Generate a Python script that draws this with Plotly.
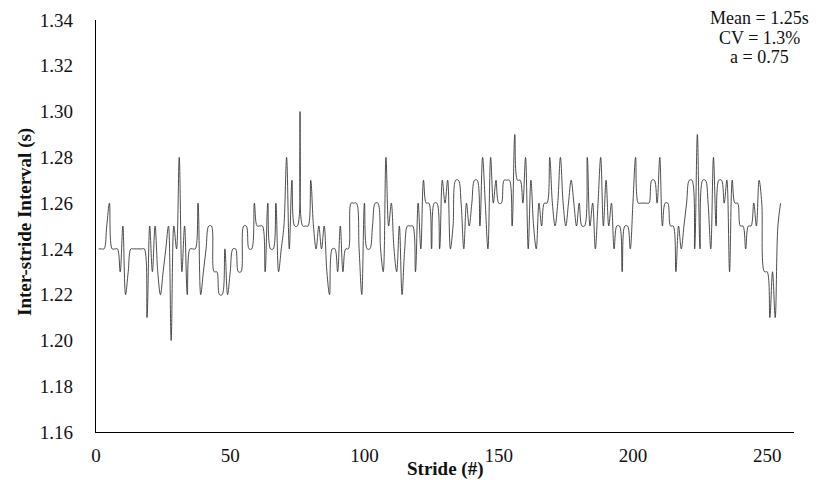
import plotly.graph_objects as go

strides = list(range(1, 256))
interval_s = [
    1.24, 1.24, 1.24, 1.25, 1.26, 1.24, 1.24, 1.24, 1.23, 1.25,
    1.22, 1.23, 1.24, 1.24, 1.24, 1.24, 1.24, 1.24, 1.21, 1.25,
    1.23, 1.25, 1.23, 1.22, 1.23, 1.24, 1.25, 1.20, 1.25, 1.24,
    1.28, 1.23, 1.25, 1.22, 1.24, 1.24, 1.24, 1.26, 1.22, 1.23,
    1.24, 1.25, 1.25, 1.23, 1.23, 1.22, 1.22, 1.24, 1.22, 1.23,
    1.24, 1.24, 1.23, 1.23, 1.25, 1.25, 1.24, 1.24, 1.26, 1.25,
    1.25, 1.25, 1.23, 1.26, 1.24, 1.24, 1.26, 1.23, 1.24, 1.25,
    1.28, 1.24, 1.27, 1.25, 1.25, 1.30, 1.25, 1.25, 1.25, 1.27,
    1.25, 1.24, 1.25, 1.24, 1.25, 1.23, 1.22, 1.24, 1.24, 1.23,
    1.25, 1.23, 1.24, 1.24, 1.26, 1.26, 1.26, 1.24, 1.22, 1.26,
    1.24, 1.24, 1.25, 1.26, 1.26, 1.24, 1.23, 1.28, 1.25, 1.26,
    1.24, 1.23, 1.25, 1.22, 1.24, 1.25, 1.25, 1.25, 1.23, 1.26,
    1.24, 1.27, 1.26, 1.26, 1.24, 1.26, 1.26, 1.24, 1.27, 1.26,
    1.27, 1.24, 1.25, 1.27, 1.27, 1.26, 1.24, 1.26, 1.25, 1.26,
    1.27, 1.27, 1.25, 1.28, 1.26, 1.24, 1.28, 1.26, 1.27, 1.26,
    1.26, 1.27, 1.27, 1.27, 1.25, 1.29, 1.27, 1.27, 1.26, 1.28,
    1.24, 1.27, 1.25, 1.24, 1.26, 1.25, 1.26, 1.26, 1.28, 1.26,
    1.25, 1.26, 1.28, 1.26, 1.25, 1.26, 1.27, 1.26, 1.25, 1.26,
    1.25, 1.25, 1.28, 1.25, 1.26, 1.24, 1.26, 1.28, 1.25, 1.27,
    1.25, 1.26, 1.24, 1.25, 1.25, 1.23, 1.25, 1.25, 1.24, 1.26,
    1.28, 1.26, 1.26, 1.26, 1.26, 1.26, 1.27, 1.27, 1.26, 1.28,
    1.25, 1.26, 1.26, 1.25, 1.25, 1.23, 1.25, 1.24, 1.25, 1.26,
    1.27, 1.27, 1.24, 1.29, 1.24, 1.27, 1.27, 1.26, 1.24, 1.28,
    1.25, 1.27, 1.27, 1.26, 1.27, 1.23, 1.27, 1.26, 1.26, 1.25,
    1.25, 1.24, 1.25, 1.25, 1.26, 1.25, 1.27, 1.26, 1.23, 1.23,
    1.21, 1.23, 1.21, 1.25, 1.26,
]
x_ticks = [0, 50, 100, 150, 200, 250]
y_ticks = [1.16, 1.18, 1.20, 1.22, 1.24, 1.26, 1.28, 1.30, 1.32, 1.34]
stats_lines = ["Mean = 1.25s", "CV = 1.3%", "a = 0.75"]

FONT = "Liberation Serif, Times New Roman, serif"

fig = go.Figure()
fig.add_trace(go.Scatter(
    x=strides, y=interval_s, mode="lines",
    line=dict(color="#3a3a3a", width=0.9, shape="spline", smoothing=1.0),
    showlegend=False, hoverinfo="skip",
))

# page body has an 8px default margin; compensate so the plot area lands at
# x 96..794, y 20..432 in the 818x487 window
fig.update_layout(
    width=810, height=479,
    margin=dict(l=88, r=24, t=12, b=55, pad=0, autoexpand=False),
    paper_bgcolor="white", plot_bgcolor="white",
    font=dict(family=FONT, size=19, color="#111"),
    xaxis=dict(range=[0, 260], tickvals=x_ticks, ticktext=[str(v) for v in x_ticks],
               showgrid=False, zeroline=False, showline=True, linecolor="black",
               linewidth=1.3, ticks="", ticklabelstandoff=6, automargin=False,
               tickfont=dict(family=FONT, size=19, color="#111")),
    yaxis=dict(range=[1.16, 1.34], tickvals=y_ticks, ticktext=[f"{v:.2f}" for v in y_ticks],
               showgrid=False, zeroline=False, showline=True, linecolor="black",
               linewidth=1.3, ticks="", ticklabelstandoff=18, automargin=False,
               tickfont=dict(family=FONT, size=19, color="#111")),
)

fig.add_annotation(text="<b>Stride (#)</b>", xref="paper", yref="paper",
                   x=(445 - 96) / 698, y=-(469 - 432) / 412, showarrow=False,
                   font=dict(family=FONT, size=19, color="#111"),
                   xanchor="center", yanchor="middle")
fig.add_annotation(text="<b>Inter-stride Interval (s)</b>", xref="paper", yref="paper",
                   x=-(96 - 25) / 698, y=(432 - 222) / 412, showarrow=False, textangle=-90,
                   font=dict(family=FONT, size=19, color="#111"),
                   xanchor="center", yanchor="middle")
for line_text, yc in zip(stats_lines, [18, 37.5, 57]):
    fig.add_annotation(text=line_text, xref="paper", yref="paper",
                       x=(759 - 96) / 698, y=(432 - yc) / 412, showarrow=False,
                       align="center", borderpad=0,
                       font=dict(family=FONT, size=18, color="#111"),
                       xanchor="center", yanchor="middle")

fig.write_html("out.html")
